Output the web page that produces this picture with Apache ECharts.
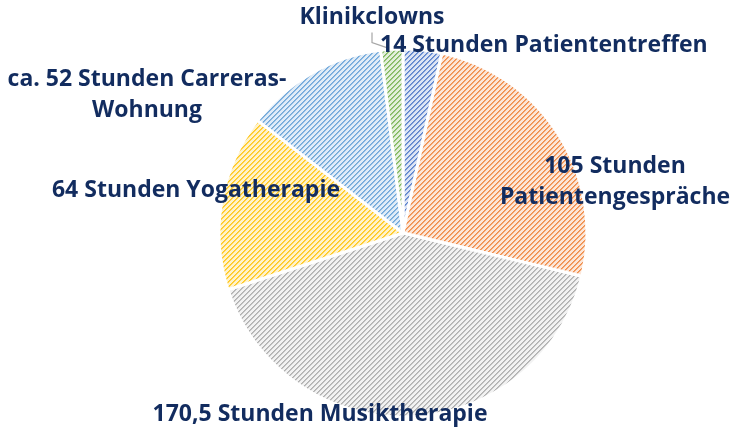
<!DOCTYPE html>
<html><head><meta charset="utf-8">
<script src="https://cdn.jsdelivr.net/npm/echarts@6/dist/echarts.min.js"></script>
<style>html,body{margin:0;padding:0;background:#fff}#c{width:735px;height:430px}</style>
</head><body><div id="c"></div>
<script>
// ---- data ----
const categories = ["Patiententreffen", "Patientengespräche", "Musiktherapie", "Yogatherapie", "Carreras-Wohnung", "Klinikclowns"];
const hours = [14, 105, 170.5, 64, 52, 8];
const labelTexts = [
  "14 Stunden Patiententreffen",
  "105 Stunden\nPatientengespräche",
  "170,5 Stunden Musiktherapie",
  "64 Stunden Yogatherapie",
  "ca. 52 Stunden Carreras-\nWohnung",
  "Klinikclowns"
];
// ---- styles ----
const lineColors = ["#4472C4", "#ED7D31", "#A5A5A5", "#FFC000", "#5B9BD5", "#70AD47"];
const bgColors = ["#DCE4F4", "#FCE6D8", "#F2F2F2", "#FFF3CC", "#E0ECF7", "#E3EFDB"];
const labelPos = [
  {x: 380, y: 45, align: 'left'},
  {x: 615, y: 182, align: 'center'},
  {x: 320, y: 414, align: 'center'},
  {x: 196, y: 190, align: 'center'},
  {x: 147, y: 95, align: 'center'},
  {x: 372, y: 17, align: 'center'}
];

function makePattern(bg, fg) {
  const n = 5;
  const cv = document.createElement('canvas');
  cv.width = n; cv.height = n;
  const ctx = cv.getContext('2d');
  ctx.fillStyle = bg; ctx.fillRect(0, 0, n, n);
  ctx.fillStyle = fg;
  for (let i = 0; i < n; i++) {
    ctx.globalAlpha = 0.85;
    ctx.fillRect(i, n - 1 - i, 1, 1);
    ctx.globalAlpha = 0.6;
    ctx.fillRect((i + 1) % n, n - 1 - i, 1, 1);
  }
  return {image: cv, repeat: 'repeat'};
}

const data = categories.map((c, i) => ({
  name: c,
  value: hours[i],
  itemStyle: {color: makePattern(bgColors[i], lineColors[i])},
  label: {formatter: labelTexts[i]},
  labelLine: {show: i === 4 || i === 5}
}));

const chart = echarts.init(document.getElementById('c'), null, {renderer: 'canvas'});
chart.setOption({
  animation: false,
  series: [{
    type: 'pie',
    center: [403, 233],
    radius: [0, 184],
    startAngle: 90,
    clockwise: true,
    itemStyle: {borderColor: '#fff', borderWidth: 3},
    label: {
      show: true,
      position: 'outside',
      color: '#122C5F',
      fontFamily: 'Open Sans',
      fontWeight: 'bold',
      fontSize: 23,
      lineHeight: 31,
      overflow: 'none',
      width: 400
    },
    labelLine: {show: false, lineStyle: {color: '#A6A6A6', width: 1.2}, length: 8, length2: 10},
    labelLayout: function (p) {
      const lp = labelPos[p.dataIndex];
      return {x: lp.x, y: lp.y, align: lp.align, verticalAlign: 'middle'};
    },
    emphasis: {disabled: true},
    data: data
  }]
});
</script></body></html>
